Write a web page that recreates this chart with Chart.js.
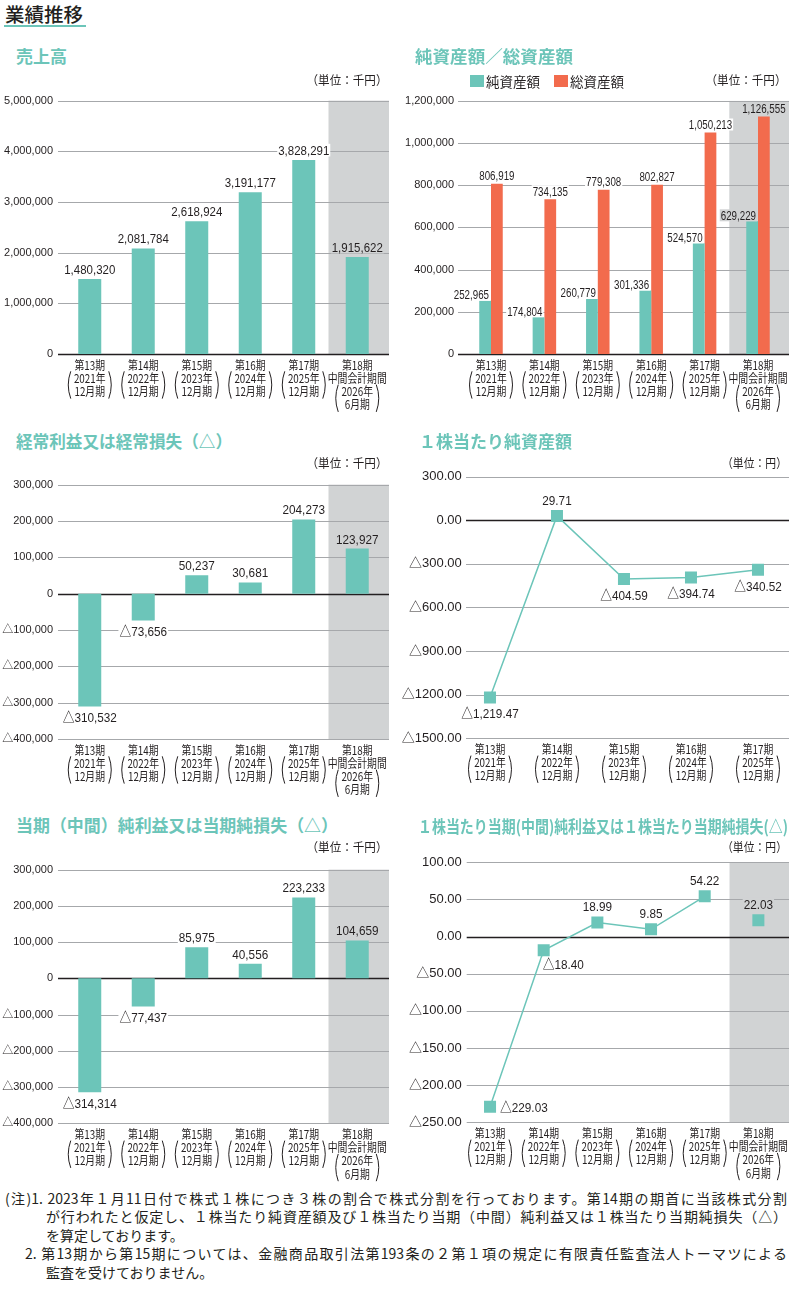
<!DOCTYPE html>
<html lang="ja">
<head>
<meta charset="UTF-8">
<title>業績推移</title>
<script src="https://cdn.jsdelivr.net/npm/chart.js"></script>
<style>
  body { margin: 0; width: 798px; height: 1291px; position: relative; background: #fff;
         font-family: 'Noto Sans CJK JP', sans-serif; color: #231f20; overflow: hidden; }
  canvas { position: absolute; }
  .t { position: absolute; white-space: nowrap; z-index: 2; }
  .head { left: 5px; top: 3px; font-size: 19.5px; line-height: 22px; font-weight: 500; }
  .rule { position: absolute; left: 4px; top: 25px; width: 82px; height: 1.5px; background: #6cc5b9; }
  .title { font-size: 17px; line-height: 18px; font-weight: 700; color: #6cc5b9; transform-origin: left center; }
  .unit { font-size: 12.5px; line-height: 14px; transform-origin: right center; }
  .legend { font-size: 13.5px; line-height: 14px; }
  .sw { position: absolute; width: 14px; height: 12px; z-index: 2; }
  .note { position: absolute; font-size: 14px; line-height: 18px; white-space: nowrap; }
  .just { text-align: justify; text-align-last: justify; white-space: normal; }
</style>
</head>
<body>
  <div class="t head">業績推移</div>
  <div class="rule"></div>

  <div class="t title" style="left:16px;top:47px" data-fit="51">売上高</div>
  <div class="t unit" style="right:410px;top:73px" data-fit="81">（単位：千円）</div>
  <canvas id="salesChart" width="399" height="330" style="left:0;top:84px"></canvas>

  <div class="t title" style="left:415px;top:47px" data-fit="158">純資産額／総資産額</div>
  <div class="sw" style="left:470px;top:75px;background:#6cc5b9"></div>
  <div class="t legend" style="left:486px;top:74px">純資産額</div>
  <div class="sw" style="left:554px;top:75px;background:#f26b4d"></div>
  <div class="t legend" style="left:570px;top:74px">総資産額</div>
  <div class="t unit" style="right:11px;top:73px" data-fit="81">（単位：千円）</div>
  <canvas id="assetChart" width="398" height="330" style="left:400px;top:84px"></canvas>

  <div class="t title" style="left:16px;top:432px" data-fit="216">経常利益又は経常損失（△）</div>
  <div class="t unit" style="right:410px;top:456px" data-fit="81">（単位：千円）</div>
  <canvas id="ordinaryChart" width="399" height="335" style="left:0;top:468px"></canvas>

  <div class="t title" style="left:419px;top:432px" data-fit="153">１株当たり純資産額</div>
  <div class="t unit" style="right:11px;top:456px" data-fit="65">（単位：円）</div>
  <canvas id="bpsChart" width="398" height="335" style="left:400px;top:468px"></canvas>

  <div class="t title" style="left:16px;top:816px" data-fit="322">当期（中間）純利益又は当期純損失（△）</div>
  <div class="t unit" style="right:410px;top:840px" data-fit="81">（単位：千円）</div>
  <canvas id="netChart" width="399" height="335" style="left:0;top:853px"></canvas>

  <div class="t title" style="left:418px;top:817px" data-fit="370">１株当たり当期(中間)純利益又は１株当たり当期純損失(△)</div>
  <div class="t unit" style="right:11px;top:840px" data-fit="65">（単位：円）</div>
  <canvas id="epsChart" width="398" height="335" style="left:400px;top:853px"></canvas>

  <div class="note just" style="left:5px;top:1189px;width:782px">(注)1. 2023年１月11日付で株式１株につき３株の割合で株式分割を行っております。第14期の期首に当該株式分割</div>
  <div class="note just" style="left:46px;top:1207px;width:741px">が行われたと仮定し、１株当たり純資産額及び１株当たり当期（中間）純利益又は１株当たり当期純損失（△）</div>
  <div class="note" style="left:46px;top:1226px">を算定しております。</div>
  <div class="note just" style="left:25px;top:1244px;width:762px">2. 第13期から第15期については、金融商品取引法第193条の２第１項の規定に有限責任監査法人トーマツによる</div>
  <div class="note" style="left:46px;top:1263px">監査を受けておりません。</div>

<script>
// ---- data ----
const periodLabels = [
  ['第13期', '2021年', '12月期'],
  ['第14期', '2022年', '12月期'],
  ['第15期', '2023年', '12月期'],
  ['第16期', '2024年', '12月期'],
  ['第17期', '2025年', '12月期'],
  ['第18期', '中間会計期間', '2026年', '6月期']
];
const sales = [1480320, 2081784, 2618924, 3191177, 3828291, 1915622];
const salesTicks = [0, 1000000, 2000000, 3000000, 4000000, 5000000];

const netAssets = [252965, 174804, 260779, 301336, 524570, 629229];
const totalAssets = [806919, 734135, 779308, 802827, 1050213, 1126555];
const assetTicks = [0, 200000, 400000, 600000, 800000, 1000000, 1200000];

const ordinaryIncome = [-310532, -73656, 50237, 30681, 204273, 123927];
const netIncome = [-314314, -77437, 85975, 40556, 223233, 104659];
const incomeTicks = [-400000, -300000, -200000, -100000, 0, 100000, 200000, 300000];

const bps = [-1219.47, 29.71, -404.59, -394.74, -340.52];
const bpsTicks = [-1500, -1200, -900, -600, -300, 0, 300];

const eps = [-229.03, -18.40, 18.99, 9.85, 54.22, 22.03];
const epsTicks = [-250, -200, -150, -100, -50, 0, 50, 100];

// ---- styles ----
const TEAL = '#6cc5b9';
const ORANGE = '#f26b4d';
const BAND = '#d1d3d4';
const GRID = '#a6a8ab';
const TEXT = '#231f20';
const NUM_FONT = "'Liberation Sans', 'Noto Sans CJK JP', sans-serif";
const LINE = 13.3;

const fmtInt = v => (v < 0 ? '△' : '') + Math.abs(v).toLocaleString('en-US');
const fmtDec = v => (v < 0 ? '△' : '') +
  Math.abs(v).toLocaleString('en-US', { minimumFractionDigits: 2, maximumFractionDigits: 2 });
const fmtTick = v => (v < 0 ? '△' : '') + Math.abs(v).toFixed(2);

function squeeze(ctx, text, x, y, align, sx) {
  ctx.save();
  ctx.translate(x, y);
  ctx.scale(sx, 1);
  ctx.textAlign = align;
  ctx.fillText(text, 0, 0);
  ctx.restore();
}

// grid, shaded band, value labels and the two-level period labels
function decor(cfg) {
  const bandLeft = chart => {
    const x = chart.scales.x;
    const w = x.getPixelForValue(1) - x.getPixelForValue(0);
    return x.getPixelForValue(cfg.cats.length - 1) - w / 2 - 2;
  };
  return {
    id: 'decor',
    beforeDatasetsDraw(chart) {
      const { ctx, chartArea: a, scales: { y } } = chart;
      ctx.save();
      if (cfg.band) {
        const bx = bandLeft(chart);
        ctx.fillStyle = BAND;
        ctx.fillRect(bx, a.top, cfg.grid[1] - bx, a.bottom - a.top);
      }
      y.ticks.forEach(t => {
        const py = Math.round(y.getPixelForValue(t.value)) + 0.5;
        ctx.strokeStyle = t.value === 0 ? TEXT : GRID;
        ctx.lineWidth = t.value === 0 ? 1.3 : 1;
        ctx.beginPath();
        ctx.moveTo(cfg.grid[0], py);
        ctx.lineTo(cfg.grid[1], py);
        ctx.stroke();
      });
      ctx.restore();
    },
    afterDatasetsDraw(chart) {
      const ctx = chart.ctx;
      const bx = cfg.band ? bandLeft(chart) : Infinity;
      const size = cfg.labelSize, sx = cfg.labelSx, cap = size * 0.72;
      ctx.save();
      ctx.font = size + 'px ' + NUM_FONT;
      ctx.textBaseline = 'alphabetic';
      chart.data.datasets.forEach((ds, di) => {
        chart.getDatasetMeta(di).data.forEach((el, i) => {
          const raw = ds.data[i];
          const v = raw !== null && typeof raw === 'object' ? raw.y : raw;
          if (v === null || v === undefined) return;
          const text = cfg.fmt(v);
          let x = el.x, y, align = 'center';
          if (cfg.place) {
            const p = cfg.place[i];
            if (p === 'above') y = el.y - 11.2;
            else if (p === 'below') y = el.y + 20.8;
            else if (p === 'right') { x = el.x + 10; y = el.y + 4.8; align = 'left'; }
            else { x = el.x - 1; y = el.y + 18.8; align = 'left'; }
          } else if (v >= 0) {
            y = el.y + (cfg.above ? cfg.above[di] : -5);
            if (cfg.rightAlign && cfg.rightAlign[di]) { x = el.x + el.width / 2 - 2; align = 'right'; }
          } else {
            y = el.y + 15.5;
          }
          const w = ctx.measureText(text).width * sx;
          const x0 = align === 'center' ? x - w / 2 : align === 'right' ? x - w : x;
          ctx.fillStyle = (x0 + w / 2) > bx ? BAND : '#fff';
          ctx.fillRect(x0 - 1, y - cap - 1.5, w + 2, cap + 3);
          ctx.fillStyle = TEXT;
          squeeze(ctx, text, x, y, align, sx);
        });
      });
      ctx.restore();
    },
    afterDraw(chart) {
      const { ctx, chartArea: a, scales: { x } } = chart;
      ctx.save();
      ctx.fillStyle = TEXT;
      ctx.strokeStyle = TEXT;
      ctx.lineWidth = 1;
      ctx.font = '12px "Noto Sans CJK JP"';
      ctx.textBaseline = 'middle';
      cfg.cats.forEach((lines, i) => {
        const px = x.getPixelForValue(i);
        const y0 = a.bottom + 11;
        lines.forEach((s, j) => squeeze(ctx, s, px, y0 + j * LINE, 'center', 0.82));
        const n = lines.length;
        const top = y0 + (n - 2) * LINE - 7, bot = y0 + (n - 1) * LINE + 7, mid = (top + bot) / 2;
        ctx.beginPath();
        ctx.moveTo(px - 19, top); ctx.quadraticCurveTo(px - 24, mid, px - 19, bot);
        ctx.moveTo(px + 19, top); ctx.quadraticCurveTo(px + 24, mid, px + 19, bot);
        ctx.stroke();
      });
      ctx.restore();
    }
  };
}

function makeChart(id, cfg) {
  const ticks = cfg.ticks;
  const xScale = cfg.xRange
    ? { type: 'linear', min: cfg.xRange[0], max: cfg.xRange[1] }
    : { offset: true };
  return new Chart(document.getElementById(id), {
    type: cfg.type,
    data: { labels: cfg.cats.map(c => c[0]), datasets: cfg.datasets },
    options: {
      responsive: false,
      animation: false,
      layout: { padding: { top: cfg.pad[0], right: cfg.pad[1], bottom: 0, left: 0 } },
      plugins: { legend: { display: false }, tooltip: { enabled: false } },
      scales: {
        x: Object.assign(xScale, {
          grid: { display: false, drawTicks: false },
          border: { display: false },
          ticks: { display: false },
          afterFit: s => { s.height = cfg.xH; }
        }),
        y: {
          min: ticks[0],
          max: ticks[ticks.length - 1],
          grid: { display: false, drawTicks: false },
          border: { display: false },
          afterBuildTicks: s => { s.ticks = ticks.map(v => ({ value: v })); },
          afterFit: s => { s.width = cfg.yW; },
          ticks: {
            padding: cfg.tickPad,
            color: TEXT,
            font: { family: NUM_FONT, size: cfg.tickSize },
            callback: cfg.tickFmt
          }
        }
      }
    },
    plugins: [decor(cfg)]
  });
}

const barSet = data => ({ data, backgroundColor: TEAL, barPercentage: 0.43, categoryPercentage: 1 });

makeChart('salesChart', {
  type: 'bar', cats: periodLabels, ticks: salesTicks,
  datasets: [barSet(sales)],
  pad: [6, 15], yW: 63, xH: 60, tickPad: 10, tickSize: 11,
  tickFmt: v => v.toLocaleString('en-US'),
  grid: [58, 389], band: true, fmt: fmtInt, labelSize: 13.5, labelSx: 0.85
});

makeChart('assetChart', {
  type: 'bar', cats: periodLabels, ticks: assetTicks,
  datasets: [
    { data: netAssets, backgroundColor: TEAL, barPercentage: 1, categoryPercentage: 0.44 },
    { data: totalAssets, backgroundColor: ORANGE, barPercentage: 1, categoryPercentage: 0.44 }
  ],
  pad: [6, 13.3], yW: 64.3, xH: 60, tickPad: 10.3, tickSize: 11,
  tickFmt: v => v.toLocaleString('en-US'),
  grid: [58, 389], band: true, fmt: fmtInt, labelSize: 12.5, labelSx: 0.78,
  above: [-1.5, -3.5], rightAlign: [true, false]
});

makeChart('ordinaryChart', {
  type: 'bar', cats: periodLabels, ticks: incomeTicks,
  datasets: [barSet(ordinaryIncome)],
  pad: [6.6, 15], yW: 63, xH: 64, tickPad: 10, tickSize: 11,
  tickFmt: fmtInt,
  grid: [58, 389], band: true, fmt: fmtInt, labelSize: 13.5, labelSx: 0.87
});

// linear x here so the period points keep their spacing while the tick labels sit close to the grid
makeChart('bpsChart', {
  type: 'line', cats: periodLabels.slice(0, 5), ticks: bpsTicks, xRange: [-0.41, 4.463],
  datasets: [{
    data: bps.map((v, i) => ({ x: i, y: v })), borderColor: TEAL, borderWidth: 1.5, tension: 0,
    pointStyle: 'rect', pointRadius: 8.5, pointBackgroundColor: TEAL, pointBorderWidth: 0
  }],
  pad: [6, 9], yW: 62.5, xH: 64.7, tickPad: 0.8, tickSize: 13,
  tickFmt: fmtTick,
  grid: [66, 389], band: false, fmt: fmtDec, labelSize: 13.5, labelSx: 0.87,
  place: ['below', 'above', 'below', 'below', 'below']
});

makeChart('netChart', {
  type: 'bar', cats: periodLabels, ticks: incomeTicks,
  datasets: [barSet(netIncome)],
  pad: [6.3, 15], yW: 63, xH: 64.7, tickPad: 10, tickSize: 11,
  tickFmt: fmtInt,
  grid: [58, 389], band: true, fmt: fmtInt, labelSize: 13.5, labelSx: 0.87
});

makeChart('epsChart', {
  type: 'line', cats: periodLabels, ticks: epsTicks,
  datasets: [
    {
      data: eps.map((v, i) => i < 5 ? v : null), borderColor: TEAL, borderWidth: 1.5, tension: 0,
      pointStyle: 'rect', pointRadius: 8.5, pointBackgroundColor: TEAL, pointBorderWidth: 0
    },
    {
      data: eps.map((v, i) => i === 5 ? v : null), showLine: false,
      pointStyle: 'rect', pointRadius: 8.5, pointBackgroundColor: TEAL, pointBorderWidth: 0
    }
  ],
  pad: [6.3, 12.8], yW: 63.2, xH: 65.7, tickPad: 1.5, tickSize: 13,
  tickFmt: fmtTick,
  grid: [66.7, 389], band: true, fmt: fmtDec, labelSize: 13.5, labelSx: 0.87,
  place: ['right', 'belowRight', 'above', 'above', 'above', 'above']
});

// squeeze titles and unit notes to the printed widths
document.querySelectorAll('[data-fit]').forEach(el => {
  const w = el.getBoundingClientRect().width;
  el.style.transform = 'scaleX(' + (Number(el.dataset.fit) / w) + ')';
});
</script>
</body>
</html>
